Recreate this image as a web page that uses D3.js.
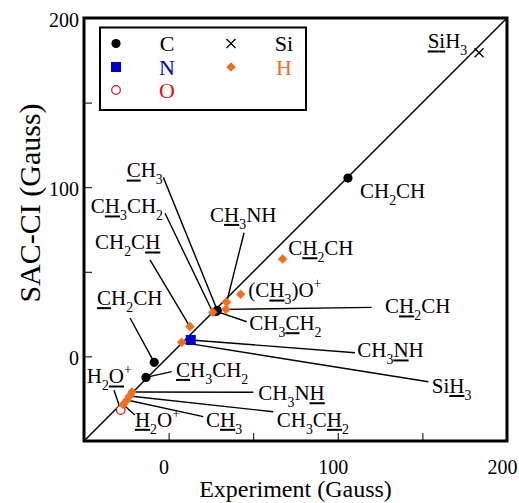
<!DOCTYPE html>
<html>
<head>
<meta charset="utf-8">
<script src="https://cdn.jsdelivr.net/npm/d3@7"></script>
<style>
  html, body { margin: 0; padding: 0; background: #fff; }
  svg { display: block; font-family: "Liberation Serif", "Times New Roman", serif; }
</style>
</head>
<body>
<svg id="chart" width="519" height="503"></svg>
<script>
// ---------------- data ----------------
const elements = ["C", "N", "O", "Si", "H"];
const legendColumn1 = ["C", "N", "O"];
const legendColumn2 = ["Si", "H"];

// label markup: {X} underlined, _n subscript, ^+ superscript
const pointLabel = [
  "CH_2CH", "{C}H_3", "CH_3{C}H_2", "{C}H_2CH", "{C}H_3CH_2",
  "CH_3{N}H",
  "H_2{O}^+",
  "{Si}H_3",
  "C{H}_2CH", "(C{H}_3)O^+", "C{H}_3NH", "C{H}_2CH", "C{H}_3CH_2", "CH_2C{H}",
  "Si{H}_3", "CH_3N{H}", "CH_3C{H}_2", "C{H}_3", "{H}_2O^+"
];
const pointElement = [
  "C", "C", "C", "C", "C",
  "N",
  "O",
  "Si",
  "H", "H", "H", "H", "H", "H",
  "H", "H", "H", "H", "H"
];
const experiment = [
  106.0, 28.8, 28.2, -8.5, -13.4,
  13.1,
  -28.3,
  183.5,
  67.4, 42.6, 34.3, 33.9, 26.1, 12.6,
  7.7, -21.6, -23.1, -24.6, -26.9
];
const sacci = [
  105.4, 27.2, 26.6, -3.5, -12.4,
  9.7,
  -31.7,
  179.5,
  57.6, 36.7, 32.0, 27.8, 26.1, 17.6,
  8.3, -21.0, -23.4, -25.8, -28.4
];

const axisDomain = [-50, 200];
const tickValues = [-50, 0, 50, 100, 150, 200];
const tickLabels = [0, 100, 200];
const xTitle = "Experiment (Gauss)";
const yTitle = "SAC-CI (Gauss)";

// annotation layout (in data units): where each label text starts and where its leader line starts
const labelAnchorX = [113.1, -24.8, 47.7, -42.3, 4.4, 111.5, -48.4, 153.1, 70.7, 47.1, 24.5, 127.9, -46.0, -43.5, 155.5, 53.0, 63.9, 22.1, -19.9];
const labelAnchorY = [93.6, 105.8, 15.6, 30.4, -12.0, -0.5, -15.9, 182.1, 59.9, 34.9, 79.6, 25.5, 84.6, 63.3, -21.5, -25.8, -41.5, -41.5, -41.5];
const leaderX = [null, -3.1, 46.2, -22.8, 1.8, 110.2, -32.3, null, null, null, 44.6, 120.0, -2.1, -11.0, 153.5, 50.1, 61.9, 20.5, -19.9];
const leaderY = [null, 105.8, 20.5, 22.7, -9.0, 2.2, -19.9, null, null, null, 73.1, 29.0, 84.6, 57.0, -15.0, -21.2, -32.7, -35.6, -34.6];

// ---------------- styles ----------------
const colorOf = { C: "#000000", N: "#0000CC", O: "#E01010", Si: "#000000", H: "#F07020" };

const svg = d3.select("#chart");
const x = d3.scaleLinear().domain(axisDomain).range([84, 507]);
const y = d3.scaleLinear().domain(axisDomain).range([441, 18]);

// diagonal y = x
svg.append("line")
  .attr("x1", x(axisDomain[0])).attr("y1", y(axisDomain[0]))
  .attr("x2", x(axisDomain[1])).attr("y2", y(axisDomain[1]))
  .attr("stroke", "#000").attr("stroke-width", 1.4);

// axes
const fmt = d => tickLabels.includes(d) ? String(d) : "";
const gx = svg.append("g").attr("transform", "translate(0,441)")
  .call(d3.axisBottom(x).tickValues(tickValues).tickSize(-8).tickPadding(19).tickFormat(fmt));
gx.selectAll("text").attr("transform", "translate(-5,0)");
const gy = svg.append("g").attr("transform", "translate(84,0)")
  .call(d3.axisLeft(y).tickValues(tickValues).tickSize(-8).tickPadding(5).tickFormat(fmt));
gy.selectAll("text").attr("transform", "translate(0,2)");
[gx, gy].forEach(g => {
  g.select(".domain").remove();
  g.selectAll("line").attr("stroke", "#000").attr("stroke-width", 1);
  g.selectAll("text").attr("font-family", "Liberation Serif").attr("font-size", 20).attr("fill", "#000");
});

// leader lines
pointLabel.forEach((_, i) => {
  if (leaderX[i] === null) return;
  svg.append("line")
    .attr("x1", x(leaderX[i])).attr("y1", y(leaderY[i]))
    .attr("x2", x(experiment[i])).attr("y2", y(sacci[i]))
    .attr("stroke", "#000").attr("stroke-width", 1.4);
});

// markers
function drawMarker(g, el, cx, cy) {
  const c = colorOf[el];
  if (el === "C") {
    g.append("circle").attr("cx", cx).attr("cy", cy).attr("r", 4.6).attr("fill", c);
  } else if (el === "N") {
    g.append("rect").attr("x", cx - 5).attr("y", cy - 5).attr("width", 10).attr("height", 10).attr("fill", c);
  } else if (el === "O") {
    g.append("circle").attr("cx", cx).attr("cy", cy).attr("r", 4.3).attr("fill", "#fff")
      .attr("stroke", c).attr("stroke-width", 1.2);
  } else if (el === "Si") {
    const s = 4.5;
    g.append("path").attr("d", `M${cx - s},${cy - s}L${cx + s},${cy + s}M${cx - s},${cy + s}L${cx + s},${cy - s}`)
      .attr("stroke", c).attr("stroke-width", 1.3).attr("fill", "none");
  } else if (el === "H") {
    const s = 4.8;
    g.append("path").attr("d", `M${cx},${cy - s}L${cx + s},${cy}L${cx},${cy + s}L${cx - s},${cy}Z`).attr("fill", c);
  }
}
const gm = svg.append("g");
pointLabel.forEach((_, i) => drawMarker(gm, pointElement[i], x(experiment[i]), y(sacci[i])));

// labels with underline / subscript / superscript
function parseMarkup(s) {
  const segs = [];
  let under = false;
  for (let i = 0; i < s.length; i++) {
    const ch = s[i];
    if (ch === "{") { under = true; continue; }
    if (ch === "}") { under = false; continue; }
    if (ch === "_") { segs.push({ ch: s[++i], under, mode: "sub" }); continue; }
    if (ch === "^") { segs.push({ ch: s[++i], under, mode: "sup" }); continue; }
    segs.push({ ch, under, mode: "n" });
  }
  return segs;
}
function drawLabel(g, tx, ty, markup, size, color) {
  const segs = parseMarkup(markup);
  const t = g.append("text").attr("x", tx).attr("y", ty)
    .attr("font-size", size).attr("fill", color || "#000");
  let off = 0;
  segs.forEach(sg => {
    const target = sg.mode === "sub" ? 7 : sg.mode === "sup" ? -9 : 0;
    const ts = t.append("tspan").text(sg.ch).attr("dy", target - off);
    if (sg.mode !== "n") ts.attr("font-size", size * 0.66);
    off = target;
  });
  const node = t.node();
  segs.forEach((sg, i) => {
    if (!sg.under) return;
    const a = node.getStartPositionOfChar(i).x;
    const b = node.getEndPositionOfChar(i).x;
    g.append("rect").attr("x", a).attr("y", ty + 2.2).attr("width", b - a).attr("height", 2)
      .attr("fill", color || "#000");
  });
}
const gl = svg.append("g");
pointLabel.forEach((m, i) => drawLabel(gl, x(labelAnchorX[i]), y(labelAnchorY[i]), m, 21));

// legend
const lg = svg.append("g");
lg.append("rect").attr("x", 100).attr("y", 27.5).attr("width", 206).attr("height", 82.5)
  .attr("fill", "#fff").attr("stroke", "#000").attr("stroke-width", 2);
const rowY = [43.5, 67, 90];
legendColumn1.forEach((el, i) => {
  drawMarker(lg, el, 116, rowY[i]);
  lg.append("text").attr("x", 167).attr("y", rowY[i] + 7.5).attr("text-anchor", "middle")
    .attr("font-size", 22).attr("fill", colorOf[el]).text(el);
});
legendColumn2.forEach((el, i) => {
  drawMarker(lg, el, 231, rowY[i]);
  lg.append("text").attr("x", 284).attr("y", rowY[i] + 7.5).attr("text-anchor", "middle")
    .attr("font-size", 22).attr("fill", colorOf[el]).text(el);
});

// frame
svg.append("rect").attr("x", 84).attr("y", 18).attr("width", 423).attr("height", 423)
  .attr("fill", "none").attr("stroke", "#000").attr("stroke-width", 3);

// axis titles
svg.append("text").attr("x", 295.5).attr("y", 497).attr("text-anchor", "middle")
  .attr("font-size", 24).text(xTitle);
svg.append("text").attr("transform", "translate(40,203) rotate(-90)").attr("text-anchor", "middle")
  .attr("font-size", 30).text(yTitle);
</script>
</body>
</html>
